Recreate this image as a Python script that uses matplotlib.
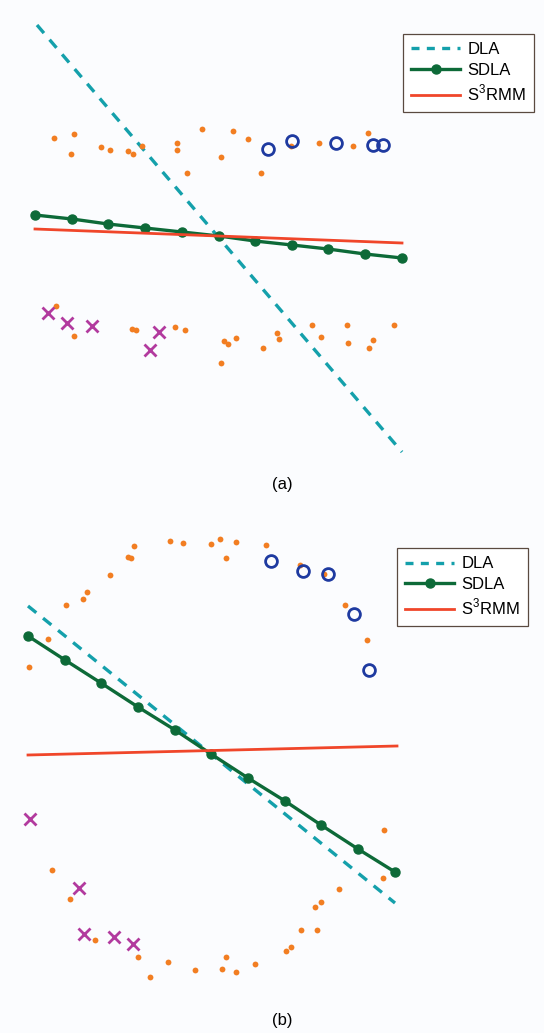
import numpy as np
import matplotlib.pyplot as plt
from matplotlib.lines import Line2D

plt.rcParams['font.family'] = ['Liberation Sans', 'DejaVu Sans']
plt.rcParams['mathtext.fontset'] = 'custom'
plt.rcParams['mathtext.rm'] = 'Liberation Sans'

# panel (a) - coordinates (pixel units)
a_dots_x = [54, 74, 71, 101, 110, 128, 133, 142, 177, 177, 187, 202, 221, 233, 248, 261, 291, 319, 353, 368,
            56, 74, 132, 136, 175, 185, 221, 224, 228, 236, 263, 277, 279, 312, 321, 347, 348, 369, 373, 394]
a_dots_y = [138, 134, 154, 147, 150, 151, 154, 146, 143, 150, 173, 129, 157, 131, 139, 173, 146, 143, 146, 133,
            306, 336, 329, 330, 327, 330, 363, 341, 344, 338, 348, 333, 339, 325, 337, 325, 343, 348, 340, 325]
a_circ_x = [268, 292, 336, 373, 383]
a_circ_y = [149, 141, 143, 145, 145]
a_cross_x = [48, 67, 92, 159, 150]
a_cross_y = [313, 323, 326, 332, 350]
a_dla_x = [37, 402]
a_dla_y = [25, 452]
a_sdla_x = [35, 72, 108, 145, 182, 219, 255, 292, 328, 365, 402]
a_sdla_y = [215, 219, 224, 228, 232, 236, 241, 245, 249, 254, 258]
a_rmm_x = [35, 402]
a_rmm_y = [229, 243]

# panel (b)
b_dots_x = [134, 170, 183, 211, 220, 236, 226, 266, 128, 131, 110, 87, 83, 66, 48, 29, 300, 324, 345, 367,
            52, 70, 95, 138, 150, 168, 195, 222, 226, 236, 255, 286, 291, 301, 317, 315, 321, 339, 383, 384]
b_dots_y = [546, 541, 543, 544, 539, 542, 558, 545, 557, 558, 575, 592, 599, 605, 639, 667, 565, 574, 605, 640,
            870, 899, 940, 957, 977, 962, 970, 969, 957, 972, 964, 951, 947, 930, 930, 907, 902, 889, 878, 830]
b_circ_x = [271, 303, 328, 354, 369]
b_circ_y = [561, 571, 574, 614, 670]
b_cross_x = [30, 79, 84, 114, 133]
b_cross_y = [819, 888, 934, 937, 944]
b_dla_x = [28, 395]
b_dla_y = [606, 903]
b_sdla_x = [28, 65, 101, 138, 175, 211, 248, 285, 321, 358, 395]
b_sdla_y = [636, 660, 683, 707, 730, 754, 778, 801, 825, 849, 872]
b_rmm_x = [28, 397]
b_rmm_y = [755, 746]

labels = ['DLA', 'SDLA', 'S$^3$RMM']

c_dla = '#14a0ab'
c_sdla = '#0d6a38'
c_rmm = '#f0462a'
c_dot = '#f27e22'
c_circ = '#1e3aa0'
c_cross = '#b23a9e'
bg = '#fbfcfe'

W, H = 544, 1033
fig = plt.figure(figsize=(W / 100, H / 100), dpi=100, facecolor=bg)


def panel(ax, dx, dy, cx, cy, xx, xy, lx, ly, sx, sy, rx, ry, leg_anchor, tag, tag_y):
    ax.set_facecolor(bg)
    ax.plot(dx, dy, 'o', color=c_dot, ms=4.2, mec='none', zorder=3)
    ax.plot(cx, cy, 'o', mfc='none', mec=c_circ, ms=8.5, mew=2, zorder=4)
    ax.plot(xx, xy, 'x', color=c_cross, ms=8, mew=2, zorder=4)
    ax.plot(lx, ly, '--', color=c_dla, lw=2.4, dashes=(3.2, 2.6), zorder=2)
    ax.plot(sx, sy, '-o', color=c_sdla, lw=2.4, ms=6.5, zorder=2)
    ax.plot(rx, ry, '-', color=c_rmm, lw=2, zorder=2)
    handles = [Line2D([], [], ls='--', color=c_dla, lw=2.4, dashes=(2.4, 2.2)),
               Line2D([], [], ls='-', marker='o', color=c_sdla, lw=2.4, ms=6.5, markevery=[1]),
               Line2D([], [], ls='-', color=c_rmm, lw=2)]
    leg = ax.legend(handles, labels, loc='upper left', bbox_to_anchor=leg_anchor,
                    borderaxespad=0, fontsize=12, handlelength=2.9, fancybox=False,
                    framealpha=1, edgecolor='#5a4a40', handletextpad=0.45, labelspacing=0.32,
                    borderpad=0.5)
    leg.get_frame().set_linewidth(0.9)
    ax.text(282, tag_y, tag, ha='center', va='center', fontsize=12)
    ax.axis('off')


ax1 = fig.add_axes([0, 1 - 500 / H, 1, 500 / H])
ax1.set_xlim(0, W)
ax1.set_ylim(500, 0)
panel(ax1, a_dots_x, a_dots_y, a_circ_x, a_circ_y, a_cross_x, a_cross_y,
      a_dla_x, a_dla_y, a_sdla_x, a_sdla_y, a_rmm_x, a_rmm_y, (403 / W, 1 - 34 / 500), '(a)', 484)

ax2 = fig.add_axes([0, 0, 1, 533 / H])
ax2.set_xlim(0, W)
ax2.set_ylim(H, 500)
panel(ax2, b_dots_x, b_dots_y, b_circ_x, b_circ_y, b_cross_x, b_cross_y,
      b_dla_x, b_dla_y, b_sdla_x, b_sdla_y, b_rmm_x, b_rmm_y, (397 / W, 1 - 48 / 533), '(b)', 1020)

fig.savefig('out.png', dpi=100, facecolor=bg)
